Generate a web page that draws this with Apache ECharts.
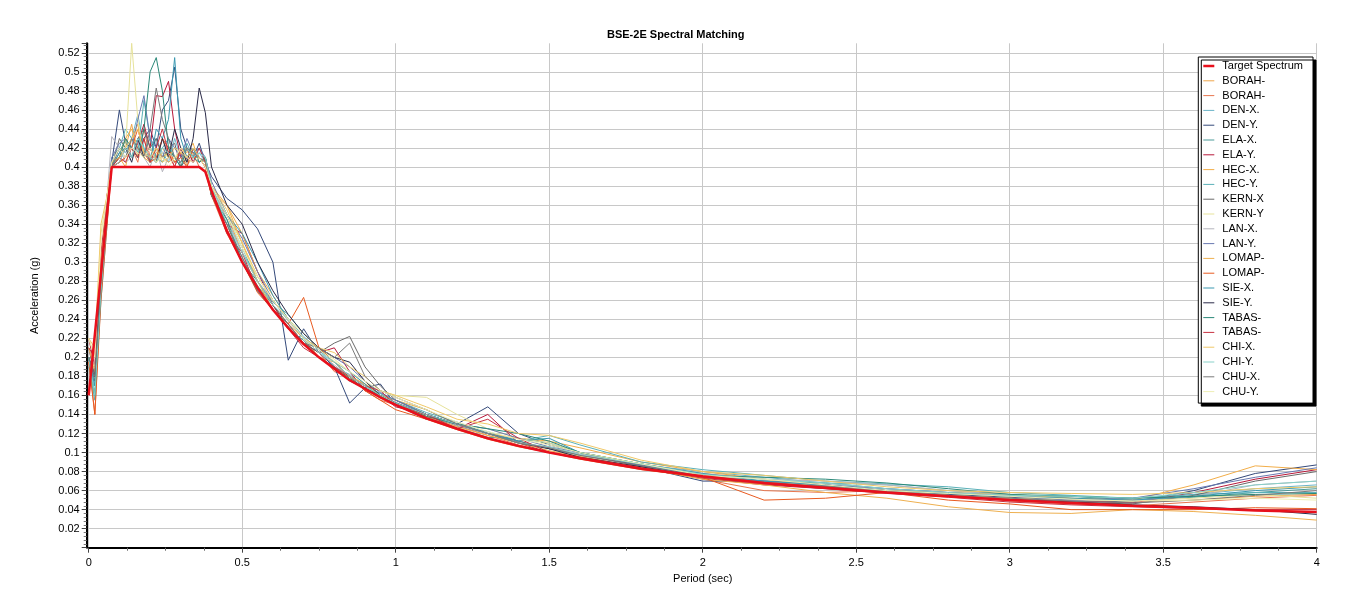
<!DOCTYPE html>
<html>
<head>
<meta charset="utf-8">
<script src="https://cdn.jsdelivr.net/npm/echarts@6/dist/echarts.min.js"></script>
<style>
html,body{margin:0;padding:0;background:#fff;}
#chart{width:1345px;height:607px;}
</style>
</head>
<body>
<div id="chart"></div>
<script>
// Period (sec)
const periods = [0,0.02,0.04,0.06,0.075,0.1,0.12,0.14,0.16,0.18,0.2,0.22,0.24,0.26,0.28,0.3,0.32,0.34,0.36,0.38,0.4,0.45,0.5,0.55,0.6,0.65,0.7,0.75,0.8,0.85,0.9,0.95,1.0,1.1,1.2,1.3,1.4,1.5,1.6,1.8,2.0,2.2,2.4,2.6,2.8,3.0,3.2,3.4,3.6,3.8,4.0];

const targetSpectrum = [0.16,0.224,0.288,0.352, 0.4,0.4,0.4,0.4,0.4,0.4,0.4,0.4,0.4,0.4,0.4,0.4,0.4,0.4,0.4,0.395, 0.375,0.333,0.3,0.273,0.25,0.231,0.214,0.2,0.188,0.176,0.167,0.158,0.15, 0.136,0.125,0.115,0.107,0.1,0.094,0.083, 0.075,0.068,0.063,0.058,0.054,0.05,0.047,0.044,0.042,0.039,0.0375];

const borah1 = [0.21,0.19,0.3,0.37, 0.405,0.41,0.42,0.445,0.41,0.43,0.405,0.415,0.42,0.41,0.405,0.415,0.402,0.41,0.41,0.4, 0.37,0.35,0.31,0.28,0.255,0.235,0.22,0.2,0.195,0.18,0.17,0.16,0.155, 0.14,0.13,0.12,0.11,0.105,0.098,0.086, 0.078,0.072,0.066,0.06,0.056,0.052,0.05,0.048,0.05,0.054,0.056];
const borah2 = [0.2,0.14,0.27,0.35, 0.4,0.405,0.41,0.42,0.405,0.44,0.41,0.405,0.43,0.415,0.4,0.42,0.405,0.415,0.4,0.395, 0.37,0.33,0.3,0.275,0.25,0.235,0.215,0.205,0.185,0.18,0.165,0.155,0.15, 0.14,0.128,0.118,0.108,0.1,0.095,0.085, 0.072,0.06,0.058,0.06,0.056,0.049,0.046,0.044,0.048,0.052,0.055];
const denX = [0.2,0.17,0.3,0.36, 0.41,0.42,0.415,0.43,0.455,0.42,0.41,0.43,0.415,0.405,0.43,0.41,0.42,0.405,0.415,0.405, 0.38,0.345,0.31,0.285,0.26,0.24,0.222,0.208,0.19,0.182,0.17,0.162,0.152, 0.14,0.128,0.122,0.112,0.104,0.097,0.087, 0.08,0.074,0.068,0.066,0.06,0.056,0.052,0.05,0.056,0.062,0.066];
const denY = [0.21,0.18,0.28,0.36, 0.405,0.46,0.425,0.42,0.41,0.43,0.44,0.42,0.46,0.47,0.505,0.44,0.42,0.41,0.425,0.405, 0.39,0.367,0.355,0.335,0.3,0.197,0.23,0.205,0.19,0.152,0.168,0.172,0.15, 0.135,0.13,0.148,0.12,0.108,0.1,0.085, 0.07,0.07,0.066,0.06,0.056,0.053,0.05,0.048,0.06,0.078,0.087];
const elaX = [0.2,0.16,0.27,0.35, 0.4,0.415,0.43,0.41,0.42,0.415,0.43,0.41,0.405,0.42,0.41,0.4,0.41,0.42,0.405,0.41, 0.375,0.34,0.305,0.275,0.255,0.23,0.218,0.2,0.19,0.175,0.168,0.158,0.15, 0.138,0.126,0.116,0.115,0.11,0.1,0.086, 0.076,0.07,0.068,0.062,0.058,0.055,0.054,0.05,0.053,0.058,0.062];
const elaY = [0.22,0.19,0.3,0.37, 0.4,0.405,0.42,0.41,0.425,0.445,0.42,0.475,0.474,0.49,0.44,0.41,0.42,0.405,0.41,0.4, 0.37,0.34,0.33,0.29,0.255,0.23,0.215,0.205,0.21,0.185,0.165,0.16,0.148, 0.14,0.125,0.14,0.11,0.1,0.094,0.083, 0.073,0.066,0.062,0.058,0.054,0.051,0.049,0.047,0.058,0.072,0.082];
const hecX = [0.2,0.18,0.29,0.36, 0.4,0.41,0.4,0.43,0.445,0.41,0.42,0.405,0.41,0.415,0.405,0.42,0.415,0.425,0.405,0.41, 0.38,0.36,0.33,0.29,0.265,0.24,0.22,0.21,0.195,0.18,0.172,0.16,0.155, 0.145,0.13,0.12,0.115,0.112,0.105,0.09, 0.08,0.072,0.064,0.06,0.058,0.056,0.052,0.05,0.066,0.086,0.082];
const hecY = [0.19,0.155,0.26,0.34, 0.405,0.42,0.44,0.43,0.415,0.47,0.43,0.41,0.42,0.43,0.41,0.405,0.425,0.41,0.42,0.405, 0.38,0.35,0.315,0.28,0.258,0.245,0.225,0.21,0.195,0.18,0.17,0.162,0.155, 0.142,0.132,0.12,0.112,0.118,0.108,0.09, 0.082,0.076,0.07,0.067,0.064,0.058,0.055,0.052,0.056,0.058,0.058];
const kernX = [0.2,0.175,0.28,0.35, 0.4,0.43,0.42,0.41,0.43,0.44,0.42,0.43,0.41,0.42,0.425,0.4,0.41,0.42,0.41,0.405, 0.37,0.34,0.3,0.28,0.255,0.235,0.215,0.205,0.215,0.222,0.19,0.17,0.155, 0.14,0.128,0.12,0.112,0.104,0.098,0.086, 0.074,0.068,0.065,0.06,0.055,0.052,0.048,0.046,0.055,0.07,0.08];
const kernY = [0.22,0.2,0.33,0.37, 0.405,0.41,0.42,0.53,0.45,0.41,0.42,0.405,0.415,0.41,0.405,0.42,0.41,0.415,0.41,0.405, 0.38,0.35,0.32,0.285,0.26,0.24,0.225,0.21,0.198,0.185,0.172,0.165,0.16, 0.158,0.14,0.125,0.115,0.11,0.1,0.088, 0.076,0.07,0.064,0.059,0.055,0.052,0.05,0.049,0.052,0.056,0.052];
const lanX = [0.21,0.19,0.3,0.37, 0.432,0.42,0.405,0.41,0.42,0.41,0.4,0.42,0.395,0.41,0.405,0.41,0.4,0.42,0.41,0.4, 0.38,0.345,0.31,0.28,0.26,0.238,0.22,0.205,0.192,0.18,0.17,0.16,0.153, 0.14,0.128,0.12,0.11,0.105,0.098,0.088, 0.078,0.072,0.07,0.066,0.06,0.056,0.05,0.05,0.054,0.066,0.07];
const lanY = [0.2,0.18,0.29,0.36, 0.41,0.425,0.43,0.42,0.45,0.475,0.43,0.42,0.41,0.43,0.42,0.41,0.43,0.415,0.42,0.41, 0.385,0.35,0.325,0.29,0.26,0.24,0.22,0.21,0.2,0.19,0.175,0.163,0.155, 0.14,0.13,0.125,0.115,0.106,0.1,0.087, 0.075,0.07,0.066,0.062,0.058,0.054,0.05,0.052,0.062,0.074,0.084];
const lomap1 = [0.21,0.185,0.3,0.37, 0.4,0.41,0.43,0.44,0.42,0.41,0.405,0.42,0.41,0.405,0.41,0.415,0.42,0.41,0.41,0.4, 0.375,0.36,0.32,0.28,0.25,0.23,0.215,0.2,0.188,0.18,0.172,0.16,0.152, 0.138,0.127,0.118,0.11,0.102,0.096,0.084, 0.072,0.066,0.058,0.052,0.043,0.037,0.036,0.04,0.038,0.034,0.029];
const lomap2 = [0.195,0.14,0.26,0.34, 0.4,0.405,0.41,0.42,0.44,0.415,0.405,0.41,0.43,0.42,0.405,0.41,0.4,0.42,0.41,0.4, 0.37,0.335,0.3,0.268,0.25,0.235,0.263,0.21,0.195,0.18,0.165,0.155,0.145, 0.135,0.124,0.114,0.106,0.1,0.093,0.082, 0.074,0.05,0.052,0.058,0.05,0.046,0.04,0.04,0.04,0.042,0.041];
const sieX = [0.2,0.17,0.28,0.36, 0.4,0.415,0.42,0.41,0.43,0.42,0.405,0.44,0.43,0.45,0.515,0.43,0.41,0.42,0.405,0.41, 0.38,0.35,0.33,0.3,0.265,0.24,0.22,0.208,0.195,0.185,0.172,0.158,0.152, 0.14,0.13,0.12,0.112,0.115,0.1,0.088, 0.078,0.07,0.066,0.06,0.057,0.054,0.052,0.05,0.054,0.06,0.064];
const sieY = [0.2,0.18,0.29,0.36, 0.405,0.41,0.42,0.405,0.43,0.41,0.42,0.405,0.43,0.41,0.44,0.42,0.405,0.43,0.483,0.457, 0.4,0.36,0.34,0.3,0.27,0.245,0.225,0.21,0.2,0.195,0.175,0.16,0.152, 0.14,0.13,0.12,0.11,0.104,0.095,0.085, 0.075,0.068,0.064,0.058,0.054,0.05,0.048,0.045,0.043,0.04,0.035];
const tabas1 = [0.2,0.16,0.27,0.35, 0.4,0.41,0.43,0.42,0.41,0.44,0.5,0.515,0.48,0.42,0.41,0.4,0.42,0.41,0.405,0.41, 0.37,0.345,0.3,0.27,0.25,0.232,0.215,0.2,0.19,0.178,0.168,0.16,0.15, 0.138,0.13,0.125,0.12,0.112,0.1,0.088, 0.076,0.074,0.072,0.068,0.062,0.056,0.054,0.052,0.054,0.056,0.057];
const tabas2 = [0.21,0.2,0.31,0.37, 0.4,0.41,0.405,0.42,0.41,0.43,0.405,0.42,0.44,0.415,0.4,0.42,0.41,0.405,0.42,0.405, 0.375,0.33,0.31,0.27,0.25,0.23,0.21,0.2,0.19,0.18,0.17,0.165,0.15, 0.14,0.125,0.135,0.115,0.1,0.095,0.084, 0.074,0.067,0.062,0.057,0.053,0.048,0.045,0.043,0.041,0.04,0.04];
const chiX = [0.22,0.21,0.34,0.37, 0.405,0.41,0.42,0.43,0.44,0.415,0.41,0.42,0.405,0.41,0.42,0.415,0.41,0.42,0.41,0.405, 0.38,0.355,0.32,0.285,0.26,0.24,0.22,0.21,0.205,0.19,0.18,0.165,0.16, 0.148,0.135,0.13,0.12,0.118,0.11,0.092, 0.08,0.076,0.07,0.064,0.06,0.058,0.057,0.056,0.058,0.062,0.064];
const chiY = [0.2,0.16,0.27,0.35, 0.4,0.405,0.42,0.41,0.43,0.42,0.41,0.405,0.42,0.415,0.41,0.405,0.42,0.41,0.415,0.41, 0.38,0.34,0.31,0.28,0.255,0.24,0.22,0.205,0.195,0.18,0.17,0.16,0.152, 0.14,0.13,0.12,0.11,0.106,0.098,0.088, 0.077,0.072,0.068,0.062,0.058,0.055,0.054,0.052,0.058,0.066,0.07];
const chuX = [0.2,0.18,0.28,0.36, 0.4,0.42,0.41,0.43,0.42,0.41,0.44,0.483,0.45,0.43,0.41,0.405,0.42,0.415,0.41,0.405, 0.37,0.34,0.305,0.27,0.25,0.235,0.215,0.21,0.2,0.215,0.18,0.165,0.158, 0.145,0.13,0.12,0.11,0.105,0.097,0.086, 0.075,0.069,0.064,0.059,0.055,0.052,0.049,0.047,0.05,0.055,0.06];
const chuY = [0.22,0.2,0.32,0.37, 0.405,0.42,0.41,0.42,0.415,0.41,0.42,0.405,0.41,0.4,0.41,0.42,0.41,0.405,0.41,0.4, 0.38,0.35,0.315,0.285,0.26,0.24,0.22,0.208,0.196,0.185,0.175,0.165,0.158, 0.145,0.132,0.122,0.114,0.108,0.1,0.088, 0.076,0.072,0.066,0.06,0.057,0.054,0.051,0.049,0.05,0.052,0.05];

const recordNames = ['BORAH-','BORAH- ','DEN-X.','DEN-Y.','ELA-X.','ELA-Y.','HEC-X.','HEC-Y.','KERN-X','KERN-Y','LAN-X.','LAN-Y.','LOMAP-','LOMAP- ','SIE-X.','SIE-Y.','TABAS-','TABAS- ','CHI-X.','CHI-Y.','CHU-X.','CHU-Y.'];
const records = [borah1,borah2,denX,denY,elaX,elaY,hecX,hecY,kernX,kernY,lanX,lanY,lomap1,lomap2,sieX,sieY,tabas1,tabas2,chiX,chiY,chuX,chuY];
const recordColors = ['#eea54a','#e8764e','#6ab4c8','#34497a','#4a9a98','#b8183a','#f2ad48','#5ab0b8','#6a6a6a','#e6e29a','#b4b4bc','#6878b0','#eeb050','#e85a20','#3a98b0','#2a2a48','#2a8878','#c83040','#f0c868','#88d0c8','#7a7a7a','#eeeeb4'];
const yTicks = {min:0, max:0.53, step:0.02};

const chart = echarts.init(document.getElementById('chart'), null, {renderer:'canvas'});
const font = 'Arial, "Liberation Sans", sans-serif';
const thinIcon = 'path://M0,0M11,10M0,4.5h11v1h-11z';
const thickIcon = 'path://M0,0M11,10M0,3.75h11v2.5h-11z';

const series = records.map((r,i)=>({
  name: recordNames[i], type:'line', symbol:'none', showSymbol:false,
  data: periods.map((p,j)=>[p, r[j]]),
  lineStyle:{width:1, color:recordColors[i]}, itemStyle:{color:recordColors[i]},
  z:2, animation:false
}));
series.push({
  name:'Target Spectrum', type:'line', symbol:'none', showSymbol:false,
  data: periods.map((p,j)=>[p, targetSpectrum[j]]),
  lineStyle:{width:2.5, color:'#e8101c'}, itemStyle:{color:'#e8101c'},
  z:3, animation:false
});

chart.setOption({
  animation:false,
  backgroundColor:'#ffffff',
  title:{text:'BSE-2E Spectral Matching', left:607, top:29, padding:0,
    textStyle:{fontFamily:font, fontSize:11, fontWeight:'bold', color:'#000'}},
  grid:{left:88.7, right:28.3, top:43.3, bottom:59.3, containLabel:false},
  legend:{
    orient:'vertical', right:32, top:57,
    data:[{name:'Target Spectrum', icon:thickIcon}].concat(recordNames.map(n=>({name:n, icon:thinIcon}))),
    itemWidth:11, itemHeight:10, itemGap:3.8,
    padding:[3.5,10,6,5],
    itemStyle:{borderWidth:0},
    backgroundColor:'#fff', borderColor:'#000', borderWidth:1,
    shadowColor:'#000', shadowBlur:0, shadowOffsetX:3, shadowOffsetY:3,
    textStyle:{fontFamily:font, fontSize:11, color:'#000', padding:[0,0,0,3]},
    selectedMode:false
  },
  xAxis:{
    type:'value', min:0, max:4, interval:0.5,
    name:'Period (sec)', nameLocation:'middle', nameGap:25,
    nameTextStyle:{fontFamily:font, fontSize:11, color:'#000'},
    axisLine:{show:true, onZero:false, lineStyle:{color:'#000', width:2}},
    axisTick:{show:true, inside:false, length:5, lineStyle:{color:'#444'}},
    minorTick:{show:true, splitNumber:4, length:3, lineStyle:{color:'#666'}},
    axisLabel:{fontFamily:font, fontSize:11, color:'#000', margin:10},
    splitLine:{show:true, lineStyle:{color:'#c8c8c8', width:1}}
  },
  yAxis:{
    type:'value', min:yTicks.min, max:yTicks.max, interval:yTicks.step, offset:2,
    name:'Acceleration (g)', nameLocation:'middle', nameGap:46,
    nameTextStyle:{fontFamily:font, fontSize:11, color:'#000'},
    axisLine:{show:true, onZero:false, lineStyle:{color:'#000', width:2}},
    axisTick:{show:true, inside:false, length:5, lineStyle:{color:'#444'}},
    minorTick:{show:true, splitNumber:5, length:3, lineStyle:{color:'#777'}},
    axisLabel:{fontFamily:font, fontSize:11, color:'#000', margin:7, showMaxLabel:false,
      formatter:function(v){ if (v<=0 || v>0.525) return ''; return String(parseFloat(v.toFixed(2))); }},
    splitLine:{show:true, showMaxLine:false, lineStyle:{color:'#c8c8c8', width:1}}
  },
  series: series
});
</script>
</body>
</html>
